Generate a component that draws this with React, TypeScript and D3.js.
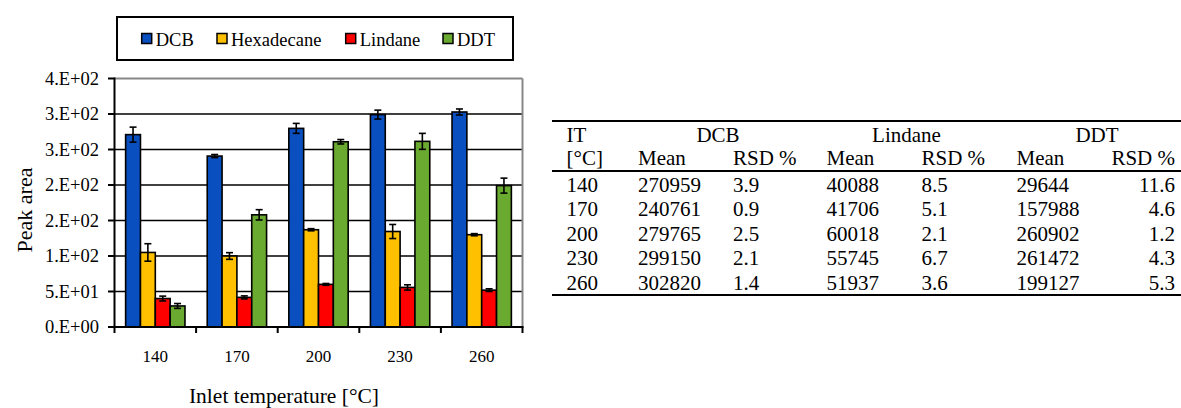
import React from 'react';
import * as d3 from 'd3';

// ---- data ----
const categories = ['140', '170', '200', '230', '260'];
const seriesNames = ['DCB', 'Hexadecane', 'Lindane', 'DDT'];
const seriesColors = ['#0a4fbf', '#ffc000', '#ff0000', '#6aaa30'];
const dcbMean = [270959, 240761, 279765, 299150, 302820];
const dcbRsd = [3.9, 0.9, 2.5, 2.1, 1.4];
const lindaneMean = [40088, 41706, 60018, 55745, 51937];
const lindaneRsd = [8.5, 5.1, 2.1, 6.7, 3.6];
const ddtMean = [29644, 157988, 260902, 261472, 199127];
const ddtRsd = [11.6, 4.6, 1.2, 4.3, 5.3];
const hexadecaneMean = [105000, 100000, 137000, 134500, 130000];
const hexadecaneErr = [12300, 4700, 1500, 9900, 1500];
const yTicks = [0, 50, 100, 150, 200, 250, 300, 350];
const yTickLabels = ['0.E+00', '5.E+01', '1.E+02', '2.E+02', '2.E+02', '3.E+02', '3.E+02', '4.E+02'];

const FONT = "'Liberation Serif', 'DejaVu Serif', serif";

type Bar = { cat: string; series: string; value: number; err: number; color: string };

function buildBars(): Bar[] {
  const out: Bar[] = [];
  categories.forEach((c, i) => {
    const vals = [
      [dcbMean[i], (dcbMean[i] * dcbRsd[i]) / 100],
      [hexadecaneMean[i], hexadecaneErr[i]],
      [lindaneMean[i], (lindaneMean[i] * lindaneRsd[i]) / 100],
      [ddtMean[i], (ddtMean[i] * ddtRsd[i]) / 100],
    ];
    seriesNames.forEach((s, j) => {
      out.push({ cat: c, series: s, value: vals[j][0] / 1000, err: vals[j][1] / 1000, color: seriesColors[j] });
    });
  });
  return out;
}

export default function App() {
  const W = 1181;
  const H = 408;
  const left = 114.5, right = 522.5, top = 78.5, bottom = 327;

  const x0 = d3.scaleBand<string>().domain(categories).range([left, right]).paddingInner(0).paddingOuter(0);
  const x1 = d3.scaleBand<string>().domain(seriesNames).range([0, x0.bandwidth()]).paddingInner(0).paddingOuter(0.75);
  const y = d3.scaleLinear().domain([0, 350]).range([bottom, top]);
  const bars = buildBars();

  const legendSwatchX = [141.7, 217, 345.7, 443];

  // table layout
  const tLeft = 552, tRight = 1181;
  const lineTop = 121, lineHead = 171, lineBottom = 295;
  const headBase = [141.5, 165];
  const rowBase = [191.5, 216, 240.5, 265, 289.5];
  const colIT = 566.5;
  const colStart = [638, 733, 826.5, 921.5, 1016.5];
  const colDDTRsdEnd = 1175;
  const groupCenters = [718, 906.5, 1097];
  const tableMeans = [dcbMean, lindaneMean, ddtMean];
  const tableRsds = [dcbRsd, lindaneRsd, ddtRsd];
  const tableGroups = ['DCB', 'Lindane', 'DDT'];

  const boundaries = [...categories.map((c) => x0(c) as number), right];

  return (
    <svg width={W} height={H} style={{ position: 'absolute', left: 0, top: 0, background: '#fff', fontFamily: FONT }}>
      <rect x={0} y={0} width={W} height={H} fill="#fff" />
      {/* Legend */}
      <rect x={117} y={17} width={396} height={43} fill="#fff" stroke="#000" strokeWidth={2} />
      {seriesNames.map((s, i) => (
        <g key={s}>
          <rect x={legendSwatchX[i]} y={33.5} width={10} height={10} fill={seriesColors[i]} stroke="#000" strokeWidth={1.5} />
          <text x={legendSwatchX[i] + 14} y={46} fontSize={18.5} fill="#000" style={{ fontFamily: FONT }}>{s}</text>
        </g>
      ))}

      {/* gridlines */}
      {yTicks.filter((t) => t > 0 && t < 350).map((t) => (
        <line key={t} x1={left} x2={right} y1={y(t)} y2={y(t)} stroke="#000" strokeWidth={1.6} />
      ))}
      {/* top and right border */}
      <line x1={left} x2={right} y1={y(350)} y2={y(350)} stroke="#878787" strokeWidth={2} />
      <line x1={right} x2={right} y1={top} y2={bottom} stroke="#878787" strokeWidth={2} />

      {/* bars */}
      {bars.map((b) => {
        const bx = (x0(b.cat) as number) + (x1(b.series) as number);
        const bw = x1.bandwidth();
        return (
          <rect key={b.cat + b.series} x={bx} y={y(b.value)} width={bw} height={y(0) - y(b.value)} fill={b.color} stroke="#000" strokeWidth={1.6} />
        );
      })}
      {/* error bars */}
      {bars.map((b) => {
        const cx = (x0(b.cat) as number) + (x1(b.series) as number) + x1.bandwidth() / 2;
        const y1 = y(b.value + b.err);
        const y2 = y(b.value - b.err);
        return (
          <g key={'e' + b.cat + b.series} stroke="#000" strokeWidth={1.6}>
            <line x1={cx} x2={cx} y1={y1} y2={y2} />
            <line x1={cx - 3.5} x2={cx + 3.5} y1={y1} y2={y1} />
            <line x1={cx - 3.5} x2={cx + 3.5} y1={y2} y2={y2} />
          </g>
        );
      })}

      {/* y axis */}
      <line x1={left} x2={left} y1={top - 1} y2={bottom + 1} stroke="#000" strokeWidth={2} />
      {yTicks.map((t, i) => (
        <g key={'yt' + t}>
          <line x1={left - 6.5} x2={left} y1={y(t)} y2={y(t)} stroke="#000" strokeWidth={2} />
          <text x={99} y={y(t)} dy="0.33em" textAnchor="end" fontSize={18.5} fill="#000" style={{ fontFamily: FONT }}>{yTickLabels[i]}</text>
        </g>
      ))}
      {/* x axis */}
      <line x1={left - 1} x2={right + 1} y1={bottom} y2={bottom} stroke="#000" strokeWidth={2} />
      {boundaries.map((bx, i) => (
        <line key={'xt' + i} x1={bx} x2={bx} y1={bottom} y2={bottom + 6} stroke="#000" strokeWidth={2} />
      ))}
      {categories.map((c) => (
        <text key={'xl' + c} x={(x0(c) as number) + x0.bandwidth() / 2} y={361.5} textAnchor="middle" fontSize={17} fill="#000" style={{ fontFamily: FONT }}>{c}</text>
      ))}
      <text x={284} y={403} textAnchor="middle" fontSize={21.5} fill="#000" style={{ fontFamily: FONT }}>Inlet temperature [°C]</text>
      <text transform="translate(31.5,210) rotate(-90)" textAnchor="middle" fontSize={22} fill="#000" style={{ fontFamily: FONT }}>Peak area</text>

      {/* table */}
      <line x1={tLeft} x2={tRight} y1={lineTop} y2={lineTop} stroke="#000" strokeWidth={2} />
      <line x1={tLeft} x2={tRight} y1={lineHead} y2={lineHead} stroke="#000" strokeWidth={2} />
      <line x1={tLeft} x2={tRight} y1={lineBottom} y2={lineBottom} stroke="#000" strokeWidth={2} />
      <g fontSize={21} fill="#000" style={{ fontFamily: FONT }}>
        <text x={colIT} y={headBase[0]}>IT</text>
        {tableGroups.map((g, i) => (
          <text key={g} x={groupCenters[i]} y={headBase[0]} textAnchor="middle">{g}</text>
        ))}
        <text x={colIT} y={headBase[1]}>[°C]</text>
        {tableGroups.map((g, i) => (
          <React.Fragment key={'h2' + g}>
            <text x={colStart[i * 2]} y={headBase[1]}>Mean</text>
            {i < 2 ? (
              <text x={colStart[i * 2 + 1]} y={headBase[1]}>RSD %</text>
            ) : (
              <text x={colDDTRsdEnd} y={headBase[1]} textAnchor="end">RSD %</text>
            )}
          </React.Fragment>
        ))}
        {categories.map((c, r) => (
          <g key={'row' + c}>
            <text x={colIT} y={rowBase[r]}>{c}</text>
            {tableGroups.map((g, i) => (
              <React.Fragment key={g + c}>
                <text x={colStart[i * 2]} y={rowBase[r]}>{String(tableMeans[i][r])}</text>
                {i < 2 ? (
                  <text x={colStart[i * 2 + 1]} y={rowBase[r]}>{tableRsds[i][r].toFixed(1)}</text>
                ) : (
                  <text x={colDDTRsdEnd} y={rowBase[r]} textAnchor="end">{tableRsds[i][r].toFixed(1)}</text>
                )}
              </React.Fragment>
            ))}
          </g>
        ))}
      </g>
    </svg>
  );
}
